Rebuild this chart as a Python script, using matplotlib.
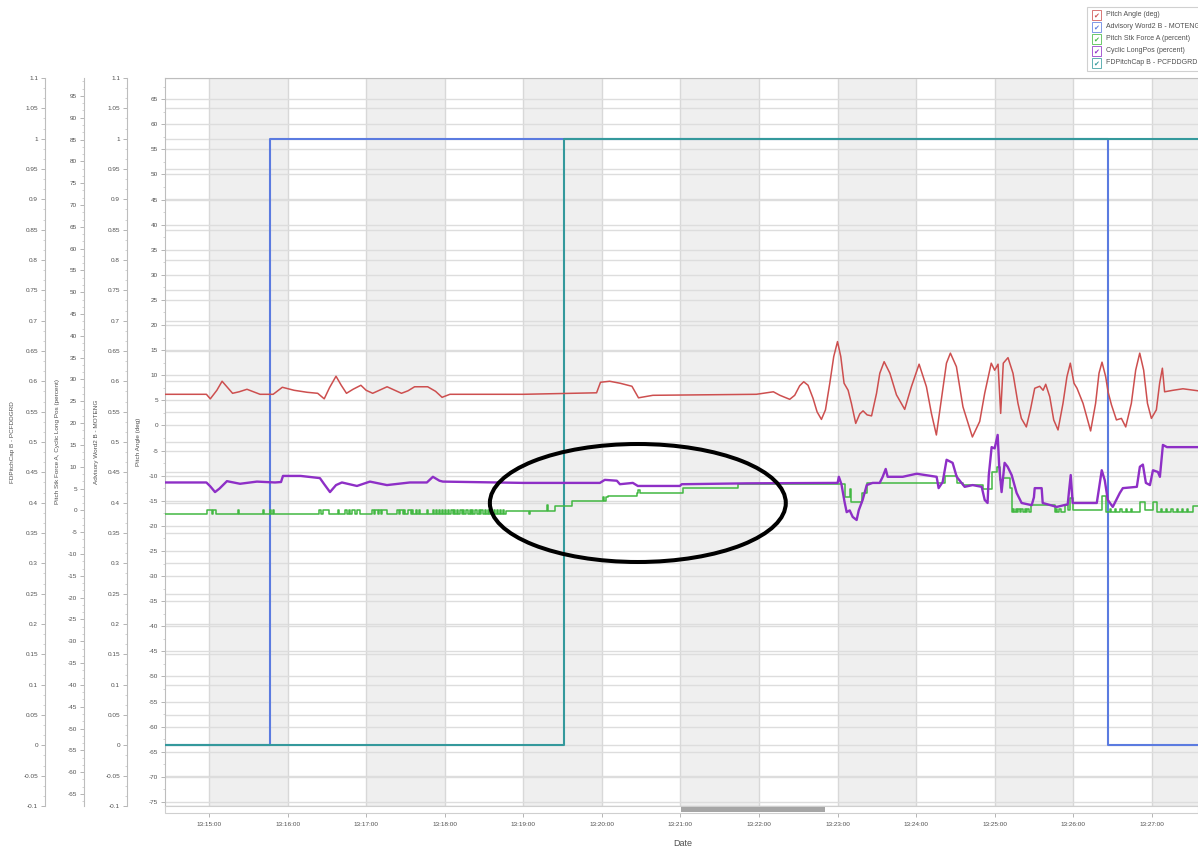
import numpy as np
import matplotlib
matplotlib.use("Agg")
import matplotlib.pyplot as plt
import matplotlib.transforms as mtransforms
from matplotlib.patches import Rectangle, Ellipse
from matplotlib.ticker import FixedLocator, FuncFormatter, MultipleLocator, AutoMinorLocator

plt.rcParams['font.family'] = ['Liberation Sans', 'DejaVu Sans']
plt.rcParams['axes.unicode_minus'] = False

# ---------------------------------------------------------------- data
# time is in seconds after 13:14:00
CLOCK_H, CLOCK_M = 13, 14
t_start, t_end = 26.4, 815.3
shaded_minutes = [1, 3, 5, 7, 9, 11, 13]   # minute index (after 13:14) of each grey band

pitch_t = [26.4, 58, 61, 66, 70, 74, 78, 83, 89, 95, 99, 109, 112, 116, 125, 135, 143, 148, 152, 157,
           161, 165, 170, 176, 180, 185, 190, 196, 202, 207, 212, 217, 227, 233, 238, 244, 300, 356, 359, 366,
           374, 383, 388, 399, 440, 478, 486, 491,
           496, 499.7, 503.5, 507.3, 511.1, 514.2, 517.5, 521.3, 524.4, 527.7, 530.8, 534.1, 537.1, 540, 542.5, 545,
           548.1, 550.6, 553.9, 557, 559.5, 562.6, 566, 569.8, 572.3, 575.6, 580, 585, 591.3, 596.4, 602.3, 607.9,
           611.7, 615.5, 619.3, 623.2, 626.2, 630.8, 635.8, 643, 648.6, 652.4, 657.4, 660, 662.6, 664.6, 666.6, 670.2,
           674, 677.8, 680.4, 684.2, 687.3, 690.6, 694.4, 697, 699, 702.1, 705.1, 708.4, 712.2, 715.2, 717.8, 720.6,
           722.9, 727.5, 733.3, 737.1, 739.7, 742, 744.8, 746.6, 749.2, 753, 756.8, 760.1, 764.4, 767.7, 770.8, 773.8,
           776.7, 779.7, 783.5, 786, 788.1, 789.8, 796.2, 803.8, 815.3]
pitch_v = [6.2, 6.2, 5.3, 7.0, 8.8, 7.6, 6.4, 6.7, 7.2, 6.6, 6.2, 6.2, 6.8, 7.6, 7.0, 6.6, 6.4, 5.3, 7.5, 9.8,
           8.0, 6.4, 7.2, 8.0, 7.0, 6.4, 7.0, 7.7, 7.0, 6.4, 6.9, 7.7, 7.7, 6.8, 5.6, 6.2, 6.2, 6.5, 8.6, 8.8,
           8.4, 7.8, 5.5, 6.0, 6.1, 6.2, 6.5, 6.7,
           6.0, 5.6, 5.2, 6.0, 7.9, 8.7, 8.0, 5.4, 2.7, 1.2, 3.1, 8.4, 13.7, 16.7, 13.7, 8.4,
           7.0, 4.4, 0.4, 2.3, 2.9, 2.1, 1.9, 6.4, 10.4, 12.7, 10.4, 6.1, 3.2, 7.7, 12.2, 7.7,
           2.4, -1.9, 5.1, 12.4, 14.4, 11.7, 3.7, -2.3, 0.8, 6.4, 12.4, 11.0, 12.2, 2.4, 12.4, 13.5,
           10.4, 4.4, 1.4, -0.3, 3.1, 7.4, 7.8, 7.0, 8.2, 5.7, 1.1, -0.9, 4.4, 9.7, 12.4, 8.4,
           7.4, 4.4, -1.1, 4.4, 10.4, 12.6, 9.7, 6.7, 4.1, 1.1, 1.4, -0.3, 4.4, 11.0, 14.4, 11.0,
           4.4, 1.4, 3.1, 8.4, 11.4, 6.7, 7.0, 7.3, 6.9]

cyclic_t = [26.4, 58, 61, 64.6, 68, 73.7, 83.7, 96.6, 110.4, 115, 116.5, 130, 144.7, 148, 152.4, 157, 161.5, 173, 182.9, 195.9,
            213.4, 226.4, 231, 236, 238.6, 300, 358.5, 362.3, 371.5, 373.8, 383.7, 387.5, 419.6, 421, 470.7, 540.1, 541, 543, 545.4, 547,
            549.3, 551.6, 554.6, 556.2, 559.2, 562.3, 566.8, 572.2, 574.5, 576.8, 578.3, 589.8, 600.4, 615.7, 617.2, 620.3, 623.3, 627.9, 631, 637.1,
            643.2, 650.1, 652.4, 654.6, 655.5, 657.7, 660, 662.3, 663.5, 665.3, 667.6, 669.9, 673, 676.8, 680.6, 688.3, 690, 690.6, 695.9, 696.7,
            707.4, 715.8, 717, 718.1, 719.6, 738, 741.8, 744.1, 746.4, 750.2, 755.6, 757.9, 768.6, 770.9, 773.2, 775.5, 778.6, 780.9, 784.7, 786.2,
            788.5, 791.6, 815.3]
cyclic_v = [6.4, 6.4, 5.5, 4.2, 5.0, 6.7, 6.1, 6.6, 6.4, 6.5, 7.9, 7.9, 7.4, 6.0, 4.2, 5.8, 6.4, 5.6, 6.6, 5.8,
            6.4, 6.4, 7.7, 6.8, 6.6, 6.3, 6.3, 7.0, 6.8, 6.0, 6.3, 5.6, 5.6, 6.0, 6.2, 6.3, 7.7, 6.0, 1.9, -0.4,
            0.0, -1.5, -2.2, 0.0, 2.4, 5.8, 6.3, 6.3, 7.7, 9.5, 7.7, 7.7, 8.4, 7.7, 5.1, 6.5, 11.6, 10.9, 7.7, 5.4,
            5.8, 5.4, 2.4, 1.7, 8.0, 14.5, 14.2, 17.3, 10.0, 4.2, 10.9, 10.0, 8.1, 4.0, 1.7, 1.2, 3.0, 5.1, 5.1, 1.7,
            0.8, 1.4, 5.0, 8.1, 1.7, 1.7, 9.2, 6.9, 2.4, 0.8, 4.0, 5.1, 5.4, 10.0, 10.5, 6.3, 5.8, 9.2, 8.8, 7.7,
            15.0, 14.5, 14.5]

# stick force is a stepped signal: (time, new level)
stick_steps = [
    (26.4, -0.9), (58.5, 0.2), (62, -0.9), (63, 0.2), (65, -0.9), (82, 0.2), (83, -0.9), (101, 0.2), (102, -0.9),
    (106.5, 0.2), (107.5, -0.9), (108.5, 0.2), (110, -0.9), (144, 0.2), (145.5, -0.9), (147, 0.2), (152, -0.9),
    (158.5, 0.2), (159.5, -0.9), (163.8, 0.2), (165.5, -0.9), (167, 0.2), (168, -0.9), (169.5, 0.2), (171.5, -0.9),
    (173, 0.2), (175, -0.9), (184.5, 0.2), (186, -0.9), (187, 0.2), (189, -0.9), (190, 0.2), (191, -0.9),
    (192.5, 0.2), (195.9, -0.9), (203.5, 0.2), (205, -0.9), (206, 0.2), (208, -0.9), (209, 0.2), (210, -0.9),
    (212, 0.2), (214, -0.9), (215, 0.2), (216, -0.9), (218, 0.2), (219, -0.9), (220, 0.2), (221, -0.9),
    (226.4, 0.2), (227.5, -0.9),
    (231, 0.2), (232, -0.9), (233, 0.2), (234, -0.9), (235.5, 0.2), (236.5, -0.9), (238, 0.2), (239, -0.9),
    (240, 0.2), (241, -0.9), (242.5, 0.2), (243.5, -0.9), (245, 0.2), (246, -0.9), (247, 0.2), (248, -0.9),
    (249.5, 0.2), (250.5, -0.9), (252, 0.2), (253, -0.9), (254, 0.2), (255, -0.9), (256.5, 0.2), (257.5, -0.9),
    (259, 0.2), (260, -0.9), (261, 0.2), (262, -0.9), (263.5, 0.2), (264.5, -0.9), (266, 0.2), (267, -0.9),
    (268, 0.2), (269, -0.9), (270.5, 0.2), (271.5, -0.9), (273, 0.2), (274, -0.9), (275, 0.2), (276, -0.9),
    (277.5, 0.2), (278.5, -0.9), (280, 0.2), (281, -0.9), (282, 0.2), (283, -0.9), (284.5, 0.2), (285.5, -0.9),
    (287, -0.1), (304.3, -0.9), (305.3, -0.1), (318, 1.3), (319, -0.1), (324, 1.1), (337, 2.2),
    (360.8, 3.0), (361.8, 2.2), (363, 3.0), (364.6, 3.3), (386.8, 4.1), (388, 4.6), (389.5, 4.1),
    (421.9, 5.2), (463.9, 6.1), (545.4, 3.1), (549.3, 5.0), (550.5, 1.9), (558.5, 4.0), (562.3, 6.2),
    (621.8, 7.9), (631, 6.2), (635.6, 5.9), (650.8, 5.0), (657.7, 8.8), (661.5, 10.0), (663.8, 7.0),
    (666.1, 7.4), (671.4, 5.1), (673, -0.3),
    (674, 0.3), (675, -0.3), (676, 0.3), (677, -0.3), (678, 0.3), (679, -0.3), (680.5, 0.3), (681.5, -0.3),
    (683, 0.3), (684, -0.3), (685, 0.3), (686, -0.3),
    (687.5, 1.2), (705.9, -0.3), (707, 0.3), (708, -0.3), (709.5, 0.3), (710.5, -0.3), (713.5, 1.2),
    (715.8, 0.1), (717.5, 2.8), (719.6, 0.1), (741.8, 3.2), (744.9, -0.3),
    (748, 0.3), (749, -0.3), (752, 0.3), (753, -0.3), (756, 0.3), (757, -0.3), (760, 0.3), (761, -0.3),
    (764, 0.3), (765, -0.3),
    (770.9, 2.0), (774.8, 0.1), (780.9, 2.0), (783.9, -0.3),
    (787, 0.3), (788, -0.3), (791, 0.3), (792, -0.3), (795, 0.3), (796, -0.3), (799, 0.3), (800, -0.3),
    (803, 0.3), (804, -0.3), (807, 0.3), (808, -0.3), (811.4, 0.9), (815.3, 0.9)]

advisory_t = [26.4, 106.6, 746.4, 815.3]
advisory_v = [0, 1, 0, 0]
fdcap_t = [26.4, 331.0, 815.3]
fdcap_v = [0, 1, 1]

series_names = ["Pitch Angle (deg)", "Advisory Word2 B - MOTENG", "Pitch Stk Force A (percent)",
                "Cyclic LongPos (percent)", "FDPitchCap B - PCFDDGRD"]

# ---------------------------------------------------------------- style
C_PITCH = "#cd4f4f"
C_ADV = "#5b7be0"
C_STK = "#42b842"
C_CYC = "#8e2fc6"
C_CAP = "#34999c"
TXT = "#505050"
SPINE = "#bdbdbd"

W, H = 1198, 850
fig = plt.figure(figsize=(W / 100, H / 100), dpi=100)
fig.patch.set_facecolor("white")

L, R, T, B = 165, 1198, 78, 806
ax = fig.add_axes([L / W, 1 - B / H, (R - L) / W, (B - T) / H])


def spine_pos(xpix):
    return (xpix - L) / (R - L)


def num_fmt(v, pos):
    return f"{round(v, 4):g}"


def clock_fmt(s, pos):
    total = CLOCK_H * 3600 + CLOCK_M * 60 + int(round(s))
    return f"{total // 3600}:{total % 3600 // 60:02d}:{total % 60:02d}"


# host axis: pitch angle scale, bands and grid
ax.set_xlim(t_start, t_end)
ax.set_ylim(-75.8, 69.2)
for m in shaded_minutes:
    ax.axvspan(m * 60, (m + 1) * 60, color="#efefef", lw=0, zorder=0)
ax.xaxis.set_major_locator(MultipleLocator(60))
ax.xaxis.set_major_formatter(FuncFormatter(clock_fmt))
ax.yaxis.set_major_locator(FixedLocator(np.arange(-75, 66, 5)))
ax.yaxis.set_minor_locator(AutoMinorLocator(2))
ax.yaxis.set_major_formatter(FuncFormatter(num_fmt))
ax.grid(axis="x", color="#d8d8d8", lw=1.0)
ax.grid(axis="y", color="#dddddd", lw=1.0)
ax.spines["right"].set_visible(False)
for side in ("left", "top", "bottom"):
    ax.spines[side].set_color(SPINE)
    ax.spines[side].set_linewidth(0.8)
ax.tick_params(axis="y", which="major", labelsize=4.6, labelcolor=TXT, color="#a8a8a8",
               length=3, width=0.6, pad=2)
ax.tick_params(axis="y", which="minor", color="#c0c0c0", length=1.5, width=0.5)
ax.tick_params(axis="x", labelsize=4.6, labelcolor=TXT, color="#a8a8a8", length=8, width=0.6, pad=3.5)
ax.set_ylabel("Pitch Angle (deg)", fontsize=4.6, color=TXT)
ax.yaxis.set_label_coords(spine_pos(141), 0.5)


def side_axis(xpix, lo, hi, ticks, label, label_x):
    a = ax.twinx()
    a.set_ylim(lo, hi)
    for side in ("right", "top", "bottom"):
        a.spines[side].set_visible(False)
    a.spines["left"].set_visible(True)
    a.spines["left"].set_position(("axes", spine_pos(xpix)))
    a.spines["left"].set_color(SPINE)
    a.spines["left"].set_linewidth(0.8)
    a.yaxis.set_ticks_position("left")
    a.yaxis.set_label_position("left")
    a.yaxis.set_major_locator(FixedLocator(ticks))
    a.yaxis.set_minor_locator(AutoMinorLocator(3))
    a.yaxis.set_major_formatter(FuncFormatter(num_fmt))
    a.tick_params(axis="y", which="major", labelsize=4.6, labelcolor=TXT, color="#a8a8a8",
                  length=3, width=0.6, pad=2)
    a.tick_params(axis="y", which="minor", color="#c0c0c0", length=1.5, width=0.5)
    a.set_ylabel(label, fontsize=4.6, color=TXT)
    a.yaxis.set_label_coords(spine_pos(label_x), 0.5)
    return a


unit_ticks = np.round(np.arange(-0.1, 1.1001, 0.05), 2)
ax_adv = side_axis(127, -0.1, 1.1, unit_ticks, "Advisory Word2 B - MOTENG", 99)
ax_cap = side_axis(45, -0.1, 1.1, unit_ticks, "FDPitchCap B - PCFDDGRD", 15)
ax_pct = side_axis(84, -67.75, 99.1, np.arange(-65, 96, 5),
                   "Pitch Stk Force A, Cyclic Long Pos (percent)", 60)

# grid rows of the 0..1 scales, drawn behind the data on the host
blend = mtransforms.blended_transform_factory(ax.transAxes, ax_cap.transData)
for v in unit_ticks:
    ax.plot([0, 1], [v, v], transform=blend, color="#dddddd", lw=1.0, zorder=1)

# data
ax_adv.plot(advisory_t, advisory_v, drawstyle="steps-post", color=C_ADV, lw=1.5)
ax_cap.plot(fdcap_t, fdcap_v, drawstyle="steps-post", color=C_CAP, lw=1.5)
stk_t, stk_v = zip(*stick_steps)
ax_pct.plot(stk_t, stk_v, drawstyle="steps-post", color=C_STK, lw=1.1)
ax_pct.plot(cyclic_t, cyclic_v, color=C_CYC, lw=1.7)

ax_red = ax.twinx()
ax_red.set_ylim(ax.get_ylim())
ax_red.set_axis_off()
ax_red.plot(pitch_t, pitch_v, color=C_PITCH, lw=1.1, solid_joinstyle="round")
ax_red.add_patch(Ellipse((387.5, -15.45), 226, 23.5, fill=False, ec="black", lw=2.9, zorder=10))
for a in (ax_adv, ax_cap, ax_pct, ax_red):
    a.set_xlim(t_start, t_end)

# scroll bar under the plot
fig.add_artist(Rectangle((L / W, 1 - 813 / H), (R - L) / W, 7 / H, transform=fig.transFigure,
                         fc="white", ec="#cfcfcf", lw=0.8, zorder=5))
fig.add_artist(Rectangle((681 / W, 1 - 812 / H), 144 / W, 5 / H, transform=fig.transFigure,
                         fc="#a6a6a6", ec="none", zorder=6))

fig.text(683 / W, 1 - 843 / H, "Date", ha="center", va="center", fontsize=6.5, color=TXT)

# legend panel with check boxes
fig.add_artist(Rectangle((1087 / W, 1 - 71 / H), 130 / W, 64 / H, transform=fig.transFigure,
                         fc="white", ec="#d0d0d0", lw=0.8, zorder=5))
legend_colors = [C_PITCH, C_ADV, C_STK, C_CYC, C_CAP]
for i, (name, c) in enumerate(zip(series_names, legend_colors)):
    yc = 15 + 12 * i
    fig.add_artist(Rectangle((1092 / W, 1 - (yc + 4.5) / H), 9 / W, 9 / H, transform=fig.transFigure,
                             fc="white", ec=c, lw=0.6, alpha=0.9, zorder=6))
    fig.text(1096.5 / W, 1 - (yc + 0.3) / H, "\u2714", color=c, fontsize=5, ha="center", va="center",
             family="DejaVu Sans", zorder=7)
    fig.text(1106 / W, 1 - yc / H, name, color=TXT, fontsize=5, ha="left", va="center", zorder=7)

fig.savefig("out.png", dpi=100, facecolor="white")
